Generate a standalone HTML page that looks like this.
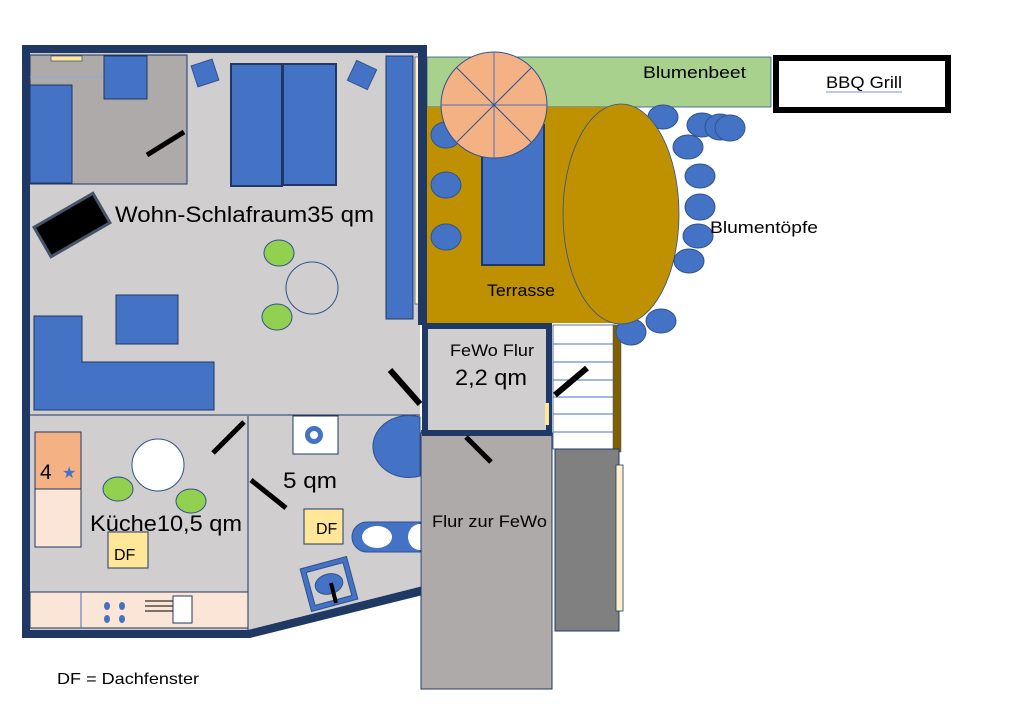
<!DOCTYPE html>
<html><head><meta charset="utf-8"><style>body{margin:0;background:#fff}svg{display:block}text{font-family:"Liberation Sans","DejaVu Sans",sans-serif}</style></head><body>
<svg width="1032" height="716" viewBox="0 0 1032 716" xmlns="http://www.w3.org/2000/svg">
<!-- terrace & garden -->
<rect x="427" y="57" width="344" height="50" fill="#a9d18e" stroke="#2f528f" stroke-width="0.8"/>
<rect x="427" y="107" width="188" height="216" fill="#bf9000"/>
<rect x="776" y="58" width="172" height="52" fill="#fff" stroke="#000" stroke-width="6"/>
<text x="826" y="88" font-size="17" textLength="76" lengthAdjust="spacingAndGlyphs">BBQ Grill</text>
<line x1="826" y1="92" x2="902" y2="92" stroke="#8fa8e0" stroke-width="1.2"/>
<text x="643" y="78" font-size="17" textLength="103" lengthAdjust="spacingAndGlyphs">Blumenbeet</text>
<ellipse cx="446" cy="135" rx="15" ry="13" fill="#4472c4" stroke="#2f528f"/>
<ellipse cx="446" cy="185" rx="15" ry="13" fill="#4472c4" stroke="#2f528f"/>
<ellipse cx="446" cy="237" rx="15" ry="13" fill="#4472c4" stroke="#2f528f"/>
<rect x="482" y="125" width="62" height="140" fill="#4472c4" stroke="#1f3864" stroke-width="2"/>
<g stroke="#2f528f"><circle cx="494" cy="105" r="53" fill="#f4b183"/>
<line x1="494" y1="52" x2="494" y2="158" stroke="#4472c4"/><line x1="441" y1="105" x2="547" y2="105" stroke="#4472c4"/>
<line x1="457" y1="68" x2="531" y2="142"/><line x1="531" y1="68" x2="457" y2="142"/></g>
<text x="487" y="296" font-size="17" textLength="68" lengthAdjust="spacingAndGlyphs">Terrasse</text>
<!-- stairs -->
<rect x="553" y="325" width="62" height="124" fill="#fff" stroke="#2f528f" stroke-width="0.8"/>
<g stroke="#4472c4" stroke-width="1"><line x1="553" y1="344" x2="615" y2="344"/><line x1="553" y1="362" x2="615" y2="362"/><line x1="553" y1="380" x2="615" y2="380"/><line x1="553" y1="397" x2="615" y2="397"/><line x1="553" y1="414" x2="615" y2="414"/><line x1="553" y1="432" x2="615" y2="432"/></g>
<rect x="613" y="325" width="8" height="127" fill="#7f6000" stroke="#2f528f" stroke-width="0.5"/>
<rect x="555" y="449" width="64" height="182" fill="#808080" stroke="#1f3864" stroke-width="1"/>
<rect x="616" y="465" width="7" height="146" fill="#fff2cc" stroke="#1f3864" stroke-width="0.8"/>
<line x1="555" y1="395" x2="587" y2="368" stroke="#000" stroke-width="6"/>
<g fill="#4472c4" stroke="#2f528f">
<ellipse cx="631" cy="332" rx="15" ry="13"/><ellipse cx="661" cy="321" rx="15" ry="12"/>
<ellipse cx="663" cy="117" rx="15" ry="12"/><ellipse cx="702" cy="125" rx="15" ry="12"/><ellipse cx="720" cy="127" rx="15" ry="13"/><ellipse cx="730" cy="128" rx="15" ry="13"/>
<ellipse cx="688" cy="147" rx="15" ry="12"/><ellipse cx="700" cy="176" rx="15" ry="12"/><ellipse cx="700" cy="207" rx="15" ry="13"/><ellipse cx="698" cy="236" rx="15" ry="12"/><ellipse cx="689" cy="261" rx="15" ry="12"/></g>
<ellipse cx="621" cy="214" rx="58" ry="110" fill="#bf9000" stroke="#2f528f" stroke-width="0.8"/>
<text x="710" y="233" font-size="17" textLength="108" lengthAdjust="spacingAndGlyphs">Blumentöpfe</text>
<!-- main floor -->
<polygon points="30,52 420,52 420,588 250,630 30,630" fill="#d0cece"/>
<rect x="30" y="55" width="157" height="129" fill="#aeaaaa" stroke="#1f3864" stroke-width="1"/>
<line x1="30" y1="77" x2="104" y2="77" stroke="#8faadc" stroke-width="1"/>
<rect x="30" y="85" width="42" height="98" fill="#4472c4" stroke="#1f3864" stroke-width="1"/>
<rect x="104" y="56" width="43" height="43" fill="#4472c4" stroke="#1f3864" stroke-width="1"/>
<rect x="51" y="56" width="31" height="5" fill="#ffe699" stroke="#1f3864" stroke-width="0.6"/>
<line x1="147" y1="155" x2="184" y2="132" stroke="#000" stroke-width="5"/>
<rect x="194" y="62" width="22" height="22" fill="#4472c4" stroke="#2f528f" transform="rotate(-18 205 73)"/>
<rect x="351" y="64" width="22" height="22" fill="#4472c4" stroke="#2f528f" transform="rotate(25 362 75)"/>
<rect x="231" y="64" width="51" height="122" fill="#4472c4" stroke="#1f3864" stroke-width="2"/>
<rect x="283" y="64" width="53" height="121" fill="#4472c4" stroke="#1f3864" stroke-width="2"/>
<rect x="386" y="56" width="27" height="263" fill="#4472c4" stroke="#1f3864" stroke-width="1"/>
<rect x="415" y="57" width="5" height="247" fill="#fff2cc" stroke="#1f3864" stroke-width="0.6"/>
<rect x="38" y="208" width="68" height="34" fill="#000" stroke="#44546a" stroke-width="3" transform="rotate(-30 72 225)"/>
<text x="115" y="222" font-size="22" textLength="259" lengthAdjust="spacingAndGlyphs">Wohn-Schlafraum35 qm</text>
<ellipse cx="279" cy="253" rx="15" ry="13" fill="#92d050" stroke="#2f528f"/>
<ellipse cx="277" cy="317" rx="15" ry="13" fill="#92d050" stroke="#2f528f"/>
<circle cx="312" cy="288" r="26" fill="none" stroke="#2f528f"/>
<rect x="116" y="295" width="62" height="49" fill="#4472c4" stroke="#1f3864" stroke-width="1"/>
<polygon points="34,316 82,316 82,362 214,362 214,410 34,410" fill="#4472c4" stroke="#1f3864" stroke-width="1"/>
<line x1="390" y1="370" x2="420" y2="404" stroke="#000" stroke-width="6"/>
<line x1="30" y1="415" x2="420" y2="415" stroke="#1f3864" stroke-width="1"/>
<line x1="248" y1="416" x2="248" y2="630" stroke="#1f3864" stroke-width="1"/>
<!-- kitchen -->
<rect x="35" y="432" width="46" height="57" fill="#f4b183" stroke="#1f3864" stroke-width="1"/>
<rect x="35" y="489" width="46" height="58" fill="#fbe5d6" stroke="#1f3864" stroke-width="1"/>
<text x="40" y="479" font-size="21">4</text>
<text x="62" y="478" font-size="16" fill="#4472c4">★</text>
<circle cx="158" cy="465" r="26" fill="#fff" stroke="#2f528f"/>
<ellipse cx="118" cy="489" rx="15" ry="12" fill="#92d050" stroke="#2f528f"/>
<ellipse cx="191" cy="501" rx="15" ry="12" fill="#92d050" stroke="#2f528f"/>
<text x="90" y="531" font-size="22" textLength="152" lengthAdjust="spacingAndGlyphs">Küche10,5 qm</text>
<rect x="108" y="532" width="40" height="36" fill="#ffe699" stroke="#1f3864" stroke-width="1"/>
<text x="114" y="560" font-size="16">DF</text>
<rect x="30" y="592" width="218" height="36" fill="#fbe5d6" stroke="#1f3864" stroke-width="1"/>
<line x1="81" y1="592" x2="81" y2="628" stroke="#4472c4"/>
<g fill="#4472c4"><ellipse cx="107" cy="606" rx="3" ry="4"/><ellipse cx="122" cy="606" rx="3" ry="4"/><ellipse cx="107" cy="619" rx="3" ry="4"/><ellipse cx="122" cy="619" rx="3" ry="4"/></g>
<g stroke="#000" stroke-width="1"><line x1="145" y1="601" x2="173" y2="601"/><line x1="145" y1="606" x2="173" y2="606"/><line x1="145" y1="611" x2="173" y2="611"/></g>
<rect x="173" y="596" width="19" height="27" fill="#fff" stroke="#1f3864"/>
<line x1="213" y1="453" x2="244" y2="422" stroke="#000" stroke-width="5"/>
<line x1="251" y1="480" x2="286" y2="508" stroke="#000" stroke-width="5"/>
<!-- bath -->
<rect x="293" y="416" width="45" height="38" fill="#fff" stroke="#1f3864" stroke-width="1"/>
<circle cx="314" cy="435" r="9" fill="#4472c4"/><circle cx="314" cy="435" r="4" fill="#fff"/>
<path d="M420,417 A36,31 0 1 0 420,476 Z" fill="#4472c4" stroke="#2f528f"/>
<text x="283" y="488" font-size="22" textLength="54" lengthAdjust="spacingAndGlyphs">5 qm</text>
<rect x="304" y="509" width="39" height="35" fill="#ffe699" stroke="#1f3864" stroke-width="1"/>
<text x="316" y="534" font-size="16">DF</text>
<path d="M420,522 L367,522 A15,15 0 0 0 367,552 L420,552 Z" fill="#4472c4" stroke="#2f528f"/>
<ellipse cx="377" cy="537" rx="15" ry="11" fill="#fff"/><ellipse cx="420" cy="537" rx="12" ry="13" fill="#fff"/>
<g transform="rotate(-15 329 584)"><rect x="305" y="562" width="48" height="44" fill="#4472c4" stroke="#2f528f"/><rect x="310" y="567" width="38" height="34" fill="#d0cece" stroke="#2f528f"/><ellipse cx="329" cy="584" rx="14" ry="10" fill="#4472c4" stroke="#2f528f"/></g>
<line x1="331" y1="583" x2="336" y2="603" stroke="#000" stroke-width="4"/>
<!-- walls -->
<rect x="22" y="45" width="405" height="8" fill="#1f3864"/>
<rect x="22" y="45" width="8" height="593" fill="#1f3864"/>
<rect x="22" y="630" width="228" height="8" fill="#1f3864"/>
<polygon points="248,630 427,585 427,594 250,638" fill="#1f3864"/>
<rect x="418" y="45" width="9" height="280" fill="#1f3864"/>
<rect x="421" y="430" width="7" height="162" fill="#1f3864"/>
<!-- FeWo -->
<rect x="421" y="433" width="131" height="256" fill="#aeaaaa" stroke="#1f3864" stroke-width="1"/>
<text x="432" y="527" font-size="17" textLength="115" lengthAdjust="spacingAndGlyphs">Flur zur FeWo</text>
<rect x="425" y="326" width="124" height="107" fill="#d0cece" stroke="#1f3864" stroke-width="6"/>
<rect x="545" y="403" width="4" height="22" fill="#ffe699"/>
<text x="450" y="356" font-size="17" textLength="84" lengthAdjust="spacingAndGlyphs">FeWo Flur</text>
<text x="455" y="385" font-size="22" textLength="72" lengthAdjust="spacingAndGlyphs">2,2 qm</text>
<line x1="466" y1="437" x2="491" y2="462" stroke="#000" stroke-width="5"/>
<text x="57" y="684" font-size="16" textLength="142" lengthAdjust="spacingAndGlyphs">DF = Dachfenster</text>
</svg>
</body></html>
